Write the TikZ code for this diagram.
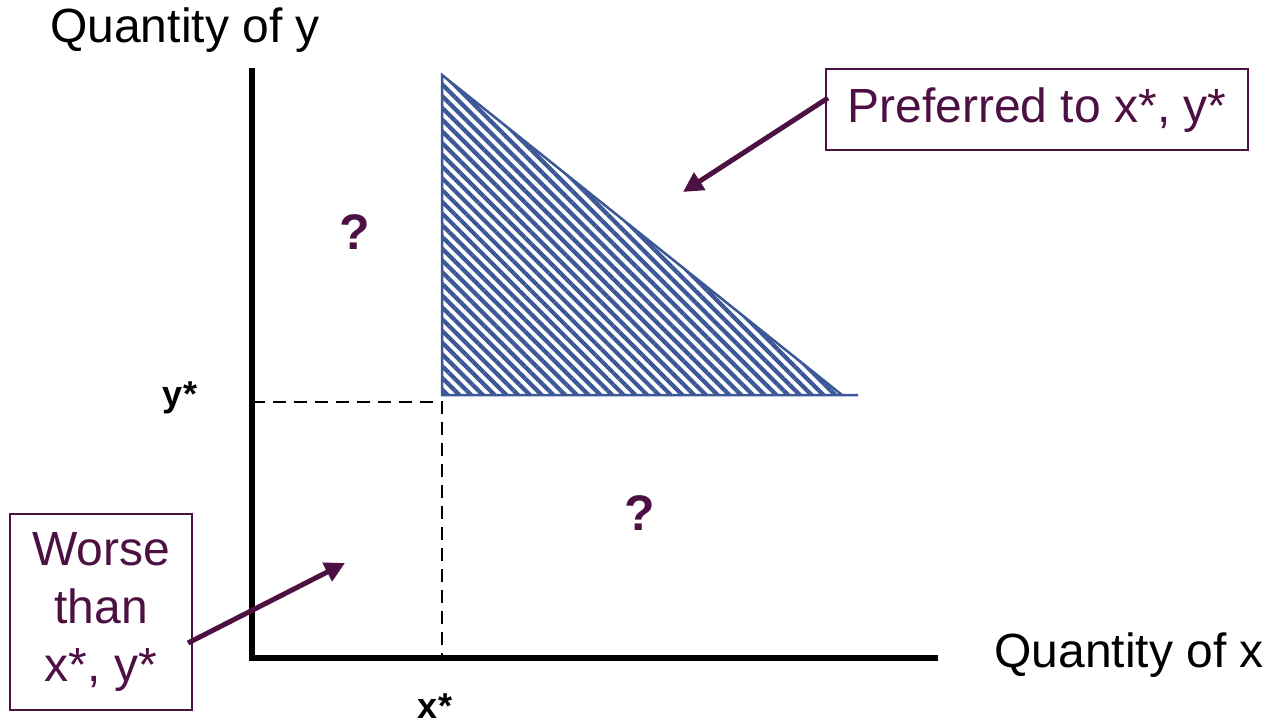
\documentclass[tikz,border=0pt]{standalone}
\usepackage{fontspec}
\setmainfont{Liberation Sans}
\usetikzlibrary{arrows.meta,patterns.meta}
\definecolor{plum}{RGB}{77,16,66}
\definecolor{hatchblue}{RGB}{61,88,150}
\tikzset{
  axis/.style={line width=6pt},
  guide/.style={line width=2.2pt,dash pattern=on 13pt off 8pt},
  callout/.style={draw=plum,line width=2pt,text=plum,align=center,font=\fontsize{48}{58}\selectfont},
  pointer/.style={draw=plum,line width=5pt,-{Triangle[length=20pt,width=20pt]}},
  axlabel/.style={font=\fontsize{48}{56}\selectfont,text=black},
  starlabel/.style={font=\fontsize{36}{42}\selectfont\bfseries},
  qmark/.style={font=\fontsize{50}{58}\selectfont\bfseries,text=plum},
}
\begin{document}
\begin{tikzpicture}[x=1pt,y=-1pt]
\useasboundingbox (0,0) rectangle (1267,722);
% triangle
\coordinate (top) at (442,75);
\coordinate (bl) at (442,395);
\coordinate (br) at (842,395);
\coordinate (brx) at (858,395);
\fill[pattern={Lines[angle=-45,distance=8.3pt,line width=4.2pt]},pattern color=hatchblue] (top) -- (bl) -- (br) -- cycle;
\draw[hatchblue,line width=2.5pt] (brx) -- (bl) -- (top) -- (br);
% axes
\coordinate (origin) at (252,658);
\coordinate (ytop) at (252,68);
\coordinate (xend) at (938,658);
\draw[axis] (ytop) -- (origin) -- (xend);
% guides
\coordinate (ystar) at (252,402);
\coordinate (corner) at (442,402);
\coordinate (xstar) at (442,658);
\draw[guide] (ystar) -- (corner) -- (xstar);
% labels
\node[axlabel] (qy) at (185,30) {Quantity of y};
\node[axlabel,anchor=west] (qx) at (991,655) {Quantity of x};
\node[starlabel] (ys) at (180,398) {y*};
\node[starlabel] (xs) at (435,706) {x*};
\node[qmark] (q1) at (355,232) {?};
\node[qmark] (q2) at (640,513) {?};
% callouts
\node[callout,minimum width=422pt,minimum height=81pt,inner sep=0pt] (pref) at (1037,110) {Preferred to x*, y*};
\node[callout,minimum width=182pt,minimum height=196pt,inner sep=0pt] (worse) at (101,612) {Worse\\than\\x*, y*};
\coordinate (ptip) at (683,192);
\coordinate (wtip) at (345,563);
\coordinate (pstart) at (828,98);
\coordinate (wstart) at (188,643);
\draw[pointer] (pstart) -- (ptip);
\draw[pointer] (wstart) -- (wtip);
\end{tikzpicture}
\end{document}
